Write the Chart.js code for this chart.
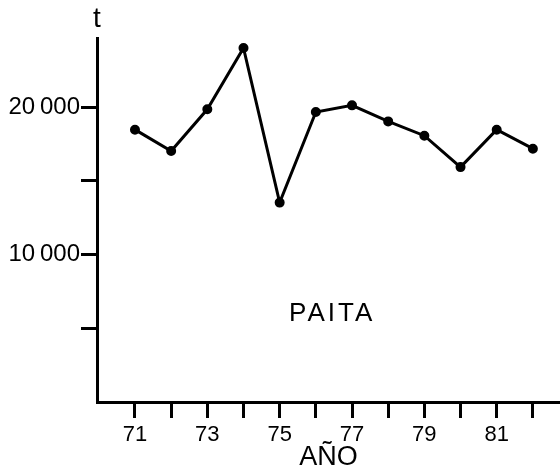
<!DOCTYPE html>
<html lang="es">
<head>
<meta charset="UTF-8">
<title>Paita</title>
<script src="https://cdn.jsdelivr.net/npm/chart.js"></script>
<style>
  html, body { margin: 0; padding: 0; background: #fff; }
  .chart-box { width: 560px; height: 474px; position: relative; }
</style>
</head>
<body>
<div class="chart-box"><canvas id="paitaChart"></canvas></div>
<script>
// años (19xx) y captura en toneladas
const years = [71, 72, 73, 74, 75, 76, 77, 78, 79, 80, 81, 82];
const catchT = [18480, 17030, 19860, 24020, 13530, 19680, 20130, 19040, 18070, 15940, 18480, 17190];
const xLabeled = [71, 73, 75, 77, 79, 81];
const yTickValues = [5000, 10000, 15000, 20000];
const yLabeled = [10000, 20000];

const black = '#000';

// textos sueltos: unidad "t" y nombre del puerto
const annotateText = {
    id: 'annotateText',
    afterDraw(chart) {
        const { ctx, chartArea, scales } = chart;
        ctx.save();
        ctx.fillStyle = black;
        ctx.textAlign = 'center';
        ctx.textBaseline = 'middle';
        ctx.font = '28px "Liberation Sans"';
        ctx.fillText('t', chartArea.left, 19);
        ctx.font = '26px "Liberation Sans"';
        ctx.letterSpacing = '3px';
        ctx.fillText('PAITA', scales.x.getPixelForValue(76.45), scales.y.getPixelForValue(5950));
        ctx.restore();
    }
};

const axisGrid = {
    drawOnChartArea: false,
    drawTicks: true,
    tickLength: 16,
    tickWidth: 3,
    tickColor: black
};

new Chart(document.getElementById('paitaChart'), {
    type: 'line',
    data: {
        datasets: [{
            data: years.map((y, i) => ({ x: y, y: catchT[i] })),
            borderColor: black,
            borderWidth: 3,
            pointRadius: 3.5,
            pointBackgroundColor: black,
            pointBorderColor: black,
            tension: 0
        }]
    },
    options: {
        responsive: true,
        maintainAspectRatio: false,
        animation: false,
        layout: { autoPadding: false, padding: { top: 38, right: 0, left: 0, bottom: 0 } },
        plugins: { legend: { display: false }, tooltip: { enabled: false } },
        scales: {
            x: {
                type: 'linear',
                min: 69.95,
                max: 82.75,
                afterBuildTicks: s => { s.ticks = years.map(v => ({ value: v })); },
                afterFit: s => { s.height = 72; },
                ticks: {
                    autoSkip: false,
                    maxRotation: 0,
                    padding: 4,
                    color: black,
                    font: { family: 'Liberation Sans', size: 22 },
                    callback: v => xLabeled.includes(v) ? String(v) : ''
                },
                grid: axisGrid,
                border: { color: black, width: 3 },
                title: {
                    display: true,
                    text: 'AÑO',
                    color: black,
                    padding: 0,
                    font: { family: 'Liberation Sans', size: 27 }
                }
            },
            y: {
                min: 0,
                max: 24700,
                afterBuildTicks: s => { s.ticks = yTickValues.map(v => ({ value: v })); },
                afterFit: s => { s.width = 97; },
                ticks: {
                    padding: 1,
                    color: black,
                    font: { family: 'Liberation Sans', size: 24 },
                    callback: v => yLabeled.includes(v) ? (v / 1000) + '\u2009000' : ''
                },
                grid: axisGrid,
                border: { color: black, width: 3 }
            }
        }
    },
    plugins: [annotateText]
});
</script>
</body>
</html>
